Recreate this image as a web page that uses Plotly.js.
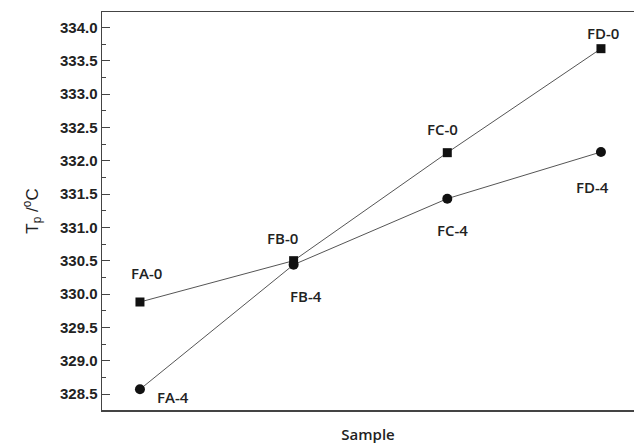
<!DOCTYPE html>
<html>
<head>
<meta charset="utf-8">
<script src="https://cdn.plot.ly/plotly-3.0.1.min.js"></script>
<style>html,body{margin:0;padding:0;background:#fff;}#chart{width:634px;height:444px;}</style>
</head>
<body>
<div id="chart"></div>
<script>
// Data
var samples = ['FA', 'FB', 'FC', 'FD'];
var xPos = [1, 2, 3, 4];
var tp0 = [329.88, 330.50, 332.12, 333.68];
var tp4 = [328.57, 330.44, 331.43, 332.13];
var labels0 = ['FA-0', 'FB-0', 'FC-0', 'FD-0'];
var labels4 = ['FA-4', 'FB-4', 'FC-4', 'FD-4'];
var yTickVals = [328.5, 329.0, 329.5, 330.0, 330.5, 331.0, 331.5, 332.0, 332.5, 333.0, 333.5, 334.0];

// label offsets in pixels (style only)
var off0 = [[7, 29], [-11, 23], [-5, 24], [2, 16]];
var off4 = [[33, -8], [12, -31], [5, -31], [-8, -35]];

var labelFont = {family: 'Open Sans, Noto Sans, sans-serif', size: 15, color: '#222', weight: 600};

var annotations = [];
for (var i = 0; i < samples.length; i++) {
  annotations.push({x: xPos[i], y: tp0[i], xref: 'x', yref: 'y', text: labels0[i], showarrow: false,
    xshift: off0[i][0], yshift: off0[i][1], font: labelFont});
  annotations.push({x: xPos[i], y: tp4[i], xref: 'x', yref: 'y', text: labels4[i], showarrow: false,
    xshift: off4[i][0], yshift: off4[i][1], font: labelFont});
}

var traces = [
  {x: xPos, y: tp0, mode: 'lines+markers', type: 'scatter', name: '0',
   line: {color: '#555', width: 1}, marker: {symbol: 'square', size: 9, color: '#111'}},
  {x: xPos, y: tp4, mode: 'lines+markers', type: 'scatter', name: '4',
   line: {color: '#555', width: 1}, marker: {symbol: 'circle', size: 10, color: '#111'}}
];

var layout = {
  width: 634, height: 444,
  margin: {l: 102, r: 0, t: 12, b: 34, pad: 0},
  paper_bgcolor: '#fff', plot_bgcolor: '#fff',
  showlegend: false,
  xaxis: {
    range: [0.753, 4.215], showgrid: false, zeroline: false,
    showticklabels: false, ticks: '',
    showline: true, mirror: true, linecolor: '#444', linewidth: 1.5,
    title: {text: 'Sample', standoff: 20, font: {family: 'Open Sans, Noto Sans, sans-serif', size: 15, color: '#222', weight: 600}}
  },
  yaxis: {
    range: [328.26, 334.23], showgrid: false, zeroline: false,
    tickvals: yTickVals, ticktext: yTickVals.map(function(v){return v.toFixed(1);}),
    ticks: 'inside', ticklen: 8, tickwidth: 1, tickcolor: '#444',
    minor: {dtick: 0.25, ticks: 'inside', ticklen: 4, tickcolor: '#444', tickwidth: 1},
    showline: true, linecolor: '#444', linewidth: 1.5,
    tickfont: {family: 'Liberation Sans, Arial, sans-serif', size: 15, color: '#222', weight: 'bold'},
    title: {text: 'T<sub>p</sub> /<sup>o</sup>C', standoff: 17, font: {family: 'Liberation Sans, Arial, sans-serif', size: 17, color: '#222'}}
  },
  annotations: annotations
};

Plotly.newPlot('chart', traces, layout, {displayModeBar: false, staticPlot: true});
</script>
</body>
</html>
